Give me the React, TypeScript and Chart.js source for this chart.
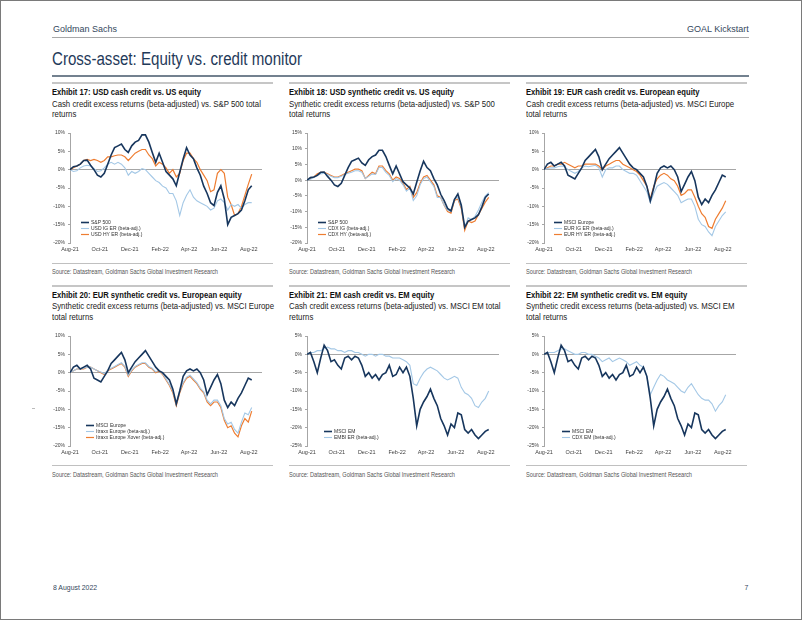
import React, { useEffect, useRef } from 'react';
import { Chart, registerables } from 'chart.js';
Chart.register(...registerables);

// ---------- axis definitions ----------
const STEP_DAYS = 7; // weekly observations starting 1 Aug 2021
const X_MAX = 392;
const tickDays = [0, 61, 122, 184, 243, 304, 365];
const tickLabels = ['Aug-21', 'Oct-21', 'Dec-21', 'Feb-22', 'Apr-22', 'Jun-22', 'Aug-22'];

// ---------- series (% cumulative returns, weekly) ----------
const sp500 = [0, 0.8, 1.0, 1.5, 2.5, 2.6, 1.2, 0.0, -1.5, -2.0, -1.0, 1.5, 4.0, 6.0, 6.5, 7.0, 5.5, 4.7, 6.5, 7.5, 8.0, 9.5, 9.5, 7.5, 4.7, 2.0, 4.5, 2.0, -0.5, -1.5, -2.5, -4.4, -0.7, 2.9, 6.0, 4.0, 3.0, 0.5, -1.5, -4.5, -6.5, -9.0, -9.8, -6.2, -4.4, -8.0, -15.0, -13.0, -12.5, -12.0, -11.0, -8.5, -5.5, -4.4];
const usdIG = [0, -0.5, -0.3, 0.5, 1.0, 1.2, 1.0, 0.3, -0.5, -0.3, 0.5, 1.5, 2.0, 1.5, 2.0, 1.5, 0.5, -1.5, -0.5, -1.0, -0.5, 0.3, 0.0, -1.0, -2.0, -3.0, -3.5, -4.5, -5.0, -6.5, -6.5, -8.5, -12.5, -9.0, -7.0, -5.5, -7.5, -8.5, -9.0, -9.5, -10.0, -11.0, -10.5, -8.5, -8.0, -9.0, -11.0, -9.5, -10.0, -9.5, -10.5, -9.5, -9.0, -9.0];
const usdHY = [0, 0.5, 1.0, 1.5, 2.5, 2.8, 2.5, 2.8, 2.5, 2.0, 2.5, 3.5, 3.5, 3.8, 4.0, 4.0, 3.5, 2.5, 3.5, 4.5, 5.0, 5.5, 5.5, 4.0, 3.0, 1.0, 2.0, 1.5, 0.5, -1.0, 0.0, -2.0, -1.0, 2.5, 4.5, 4.5, 3.0, 2.0, 0.0, -1.5, -3.0, -6.0, -5.5, -1.0, 0.0, -1.0, -7.5, -9.5, -12.5, -12.0, -10.0, -7.0, -4.0, -1.2];
const cdxIG = [0, 0.3, 0.8, 1.5, 2.0, 2.2, 1.8, 1.2, 0.8, 0.8, 1.2, 1.8, 2.2, 2.5, 3.0, 3.0, 2.5, 0.5, 1.2, 2.0, 1.8, 4.0, 4.0, 2.5, 1.5, -0.5, 0.5, 0.0, -1.5, -3.5, -2.5, -6.5, -5.0, -1.5, 0.5, 1.0, -0.5, -2.0, -5.5, -5.5, -8.0, -9.5, -10.0, -6.0, -5.5, -8.5, -15.0, -12.0, -12.5, -11.5, -9.5, -7.0, -5.0, -4.0];
const cdxHY = [0, 0.5, 1.0, 2.0, 2.5, 2.5, 2.0, 1.5, 1.0, 1.0, 1.5, 2.0, 2.5, 3.0, 3.5, 3.5, 3.0, 0.5, 1.5, 2.5, 2.0, 4.5, 4.5, 3.0, 2.0, 0.0, 1.0, 0.5, -1.0, -3.0, -2.0, -5.5, -4.0, -1.0, 1.0, 1.5, 0.0, -1.5, -5.0, -5.5, -8.0, -10.0, -10.5, -6.5, -6.0, -9.0, -16.0, -13.0, -13.5, -13.0, -11.0, -9.0, -7.0, -5.5];
const msciEurope = [0, 1.5, 2.0, 1.0, 1.5, 2.0, 1.0, -1.5, -2.0, -2.5, -1.0, 0.5, 2.5, 3.5, 4.5, 5.5, 3.5, 0.0, 1.5, 3.0, 4.0, 5.0, 6.0, 4.5, 3.0, 1.5, 0.5, 0.0, -1.0, -2.0, -4.5, -8.5, -5.0, -1.0, 0.5, 1.0, 0.5, 1.0, 0.0, -2.0, -6.0, -4.0, -2.0, -0.5, -3.0, -7.5, -9.5, -8.0, -9.0, -7.0, -5.5, -3.5, -1.5, -2.0];
const eurIG = [0, 0.3, 0.5, 0.5, 0.8, 1.0, 0.8, 0.0, -0.5, -1.0, -0.5, 0.5, 1.0, 0.8, 1.0, 1.2, 0.5, -2.0, 0.0, 0.5, 0.5, 1.0, 1.0, 0.0, -0.5, -1.0, -1.0, -1.5, -3.0, -4.5, -6.0, -9.0, -6.5, -4.5, -4.0, -3.5, -4.0, -5.0, -6.0, -7.0, -9.0, -8.5, -8.0, -8.0, -10.0, -13.5, -15.0, -15.5, -17.0, -18.0, -15.5, -14.0, -12.5, -11.5];
const eurHY = [0, 0.5, 1.0, 1.0, 1.5, 1.5, 2.0, 1.5, 1.0, 0.5, 1.0, 1.0, 1.5, 1.5, 1.5, 1.5, 1.0, 0.0, 1.0, 1.5, 2.0, 2.5, 2.5, 1.5, 1.0, 0.5, 0.0, -0.5, -1.5, -3.0, -4.5, -8.0, -4.5, -2.5, -1.5, -1.0, -1.5, -2.5, -3.0, -4.5, -7.0, -6.5, -5.5, -5.5, -7.5, -10.0, -12.0, -13.0, -15.5, -16.0, -13.5, -12.0, -10.5, -8.5];
const itraxxEurope = [0, 0.5, 1.0, 1.0, 1.2, 1.5, 1.5, 1.0, 0.5, 0.2, -0.3, 0.7, 1.2, 1.7, 2.2, 2.7, 1.7, -0.7, 0.7, 1.7, 2.2, 2.7, 2.7, 1.7, 1.2, 0.2, 0.7, -0.3, -1.7, -3.2, -5.0, -8.5, -5.0, -2.7, -1.2, -0.7, -1.7, -2.7, -4.2, -5.2, -7.5, -8.5, -7.5, -7.5, -9.0, -12.5, -14.0, -13.5, -15.5, -16.5, -13.5, -11.0, -11.5, -9.5];
const itraxxXover = [0, 0.5, 1.0, 1.0, 1.0, 1.5, 1.5, 1.0, 0.5, 0.0, -0.5, 0.5, 1.0, 1.5, 2.0, 2.5, 1.5, -1.0, 0.5, 1.5, 2.0, 2.5, 2.5, 1.5, 1.0, 0.0, 0.5, -0.5, -2.0, -3.5, -5.5, -9.0, -5.5, -3.0, -1.5, -1.0, -2.0, -3.0, -4.5, -5.5, -8.0, -9.0, -8.0, -8.0, -9.5, -13.0, -15.0, -14.5, -16.5, -17.5, -14.5, -12.5, -13.5, -10.5];
const msciEM = [0, 0.5, -2.0, -5.0, -1.0, 2.5, 1.0, -2.0, -1.5, -3.0, -4.0, -1.0, -0.5, -1.5, -0.5, -1.0, -3.0, -6.0, -5.0, -6.5, -5.5, -7.0, -5.5, -5.0, -3.0, -6.0, -5.5, -3.5, -5.0, -3.5, -6.0, -12.0, -19.5, -15.0, -13.0, -11.5, -9.5, -12.0, -14.0, -17.5, -19.5, -22.0, -19.0, -20.0, -16.0, -16.5, -20.5, -21.5, -20.5, -22.0, -23.0, -22.0, -21.0, -20.5];
const embi = [0, 0.5, 0.5, 1.0, 1.0, 1.5, 2.0, 1.5, 1.5, 1.0, 1.0, 0.5, 1.0, 1.0, 0.5, 0.5, 0.0, -0.5, 0.0, 0.0, -0.5, 0.0, 0.0, -0.5, -0.5, -1.0, -1.0, -1.0, -1.5, -2.0, -3.0, -8.0, -8.5, -6.5, -5.0, -4.0, -3.5, -4.0, -4.5, -5.5, -6.5, -7.0, -6.5, -6.0, -6.5, -9.0, -10.5, -11.0, -12.0, -14.0, -14.5, -13.0, -12.0, -10.0];
const cdxEM = [0, 0.5, 0.5, 0.5, 1.0, 1.5, 1.5, 1.0, 0.5, 0.0, 0.0, 0.5, 0.5, 0.0, 0.0, -0.5, -1.0, -2.0, -1.5, -1.0, -2.0, -1.5, -1.0, -1.5, -2.0, -3.0, -2.5, -2.0, -3.0, -3.5, -6.0, -11.0, -9.0, -7.0, -5.5, -6.0, -7.0, -7.5, -8.0, -9.0, -10.0, -10.5, -9.0, -8.0, -9.5, -11.0, -12.0, -12.5, -12.5, -13.5, -15.5, -14.0, -13.0, -11.0];

// ---------- styles ----------
const NAVY = '#17365d';
const LIGHT = '#a4c8e6';
const ORANGE = '#ee7d31';
const FONT = '"Liberation Sans Narrow", "Liberation Sans", Arial, sans-serif';
Chart.defaults.font.family = '"Liberation Sans", Arial, sans-serif';

type Series = { label: string; data: number[]; color: string; width: number };
type Spec = { col: number; row: number; title: string; sub1: string; sub2: string; yMin: number; yMax: number; legendDx: number; series: Series[] };

const specs: Spec[] = [
  { col: 53, row: 0, title: 'Exhibit 17: USD cash credit vs. US equity', sub1: 'Cash credit excess returns (beta-adjusted) vs. S&P 500 total', sub2: 'returns', yMin: -20, yMax: 10, legendDx: 11,
    series: [ { label: 'S&P 500', data: sp500, color: NAVY, width: 1.6 }, { label: 'USD IG ER (beta-adj.)', data: usdIG, color: LIGHT, width: 1.1 }, { label: 'USD HY ER (beta-adj.)', data: usdHY, color: ORANGE, width: 1.2 } ] },
  { col: 290, row: 0, title: 'Exhibit 18: USD synthetic credit vs. US equity', sub1: 'Synthetic credit excess returns (beta-adjusted) vs. S&P 500', sub2: 'total returns', yMin: -20, yMax: 15, legendDx: 11,
    series: [ { label: 'S&P 500', data: sp500, color: NAVY, width: 1.6 }, { label: 'CDX IG (beta-adj.)', data: cdxIG, color: LIGHT, width: 1.1 }, { label: 'CDX HY (beta-adj.)', data: cdxHY, color: ORANGE, width: 1.2 } ] },
  { col: 527, row: 0, title: 'Exhibit 19: EUR cash credit vs. European equity', sub1: 'Cash credit excess returns (beta-adjusted) vs. MSCI Europe', sub2: 'total returns', yMin: -20, yMax: 10, legendDx: 10,
    series: [ { label: 'MSCI Europe', data: msciEurope, color: NAVY, width: 1.6 }, { label: 'EUR IG ER (beta-adj.)', data: eurIG, color: LIGHT, width: 1.1 }, { label: 'EUR HY ER (beta-adj.)', data: eurHY, color: ORANGE, width: 1.2 } ] },
  { col: 53, row: 1, title: 'Exhibit 20: EUR synthetic credit vs. European equity', sub1: 'Synthetic credit excess returns (beta-adjusted) vs. MSCI Europe', sub2: 'total returns', yMin: -20, yMax: 10, legendDx: 16,
    series: [ { label: 'MSCI Europe', data: msciEurope, color: NAVY, width: 1.6 }, { label: 'Itraxx Europe (beta-adj.)', data: itraxxEurope, color: LIGHT, width: 1.1 }, { label: 'Itraxx Europe Xover (beta-adj.)', data: itraxxXover, color: ORANGE, width: 1.2 } ] },
  { col: 290, row: 1, title: 'Exhibit 21: EM cash credit vs. EM equity', sub1: 'Cash credit excess returns (beta-adjusted) vs. MSCI EM total', sub2: 'returns', yMin: -25, yMax: 5, legendDx: 17,
    series: [ { label: 'MSCI EM', data: msciEM, color: NAVY, width: 1.6 }, { label: 'EMBI ER (beta-adj.)', data: embi, color: LIGHT, width: 1.1 } ] },
  { col: 527, row: 1, title: 'Exhibit 22: EM synthetic credit vs. EM equity', sub1: 'Synthetic credit excess returns (beta-adjusted) vs. MSCI EM', sub2: 'total returns', yMin: -25, yMax: 5, legendDx: 18,
    series: [ { label: 'MSCI EM', data: msciEM, color: NAVY, width: 1.6 }, { label: 'CDX EM (beta-adj.)', data: cdxEM, color: LIGHT, width: 1.1 } ] },
];

const ROW_TOPS = [83, 285.5];
const COL_W = 221;
const PLOT_H = 110;
const PAD_TOP = 6;
const Y_AXIS_W = 17;
const X_AXIS_H = 12;
const PLOT_RIGHT = 209;

// ---------- text fitting ----------
type TS = { size: number; weight: number; color: string; family: string; ref: string; refW: number };
let mctx: CanvasRenderingContext2D | null = null;
function scaleOf(st: TS) {
  if (!mctx) mctx = document.createElement('canvas').getContext('2d');
  if (!mctx) return 1;
  mctx.font = `${st.weight} ${st.size}px ${st.family}`;
  const w = mctx.measureText(st.ref).width;
  return w > 0 ? st.refW / w : 1;
}
const stHeader: TS = { size: 9, weight: 400, color: '#34475c', family: FONT, ref: 'Goldman Sachs', refW: 64 };
const stTitle: TS = { size: 18, weight: 400, color: '#1f3a5a', family: FONT, ref: 'Cross-asset: Equity vs. credit monitor', refW: 250 };
const stExTitle: TS = { size: 8.6, weight: 700, color: '#111', family: FONT, ref: 'Exhibit 17: USD cash credit vs. US equity', refW: 149 };
const stSub: TS = { size: 8.6, weight: 400, color: '#222', family: FONT, ref: 'Cash credit excess returns (beta-adjusted) vs. S&P 500 total', refW: 209 };
const stSource: TS = { size: 6.6, weight: 400, color: '#555', family: FONT, ref: 'Source: Datastream, Goldman Sachs Global Investment Research', refW: 166 };
const stFooter: TS = { size: 8, weight: 400, color: '#34475c', family: FONT, ref: '8 August 2022', refW: 44.5 };

function Txt({ x, y, st, children, right }: { x: number; y: number; st: TS; children: any; right?: boolean }) {
  const s = scaleOf(st);
  const lh = st.size * 1.15;
  return (
    <div style={{ position: 'absolute', left: right ? undefined : x, right: right ? 802 - x : undefined, top: y - st.size * 0.58, fontFamily: st.family, fontSize: st.size, fontWeight: st.weight, color: st.color, lineHeight: `${lh}px`, whiteSpace: 'nowrap', transform: `scaleX(${s})`, transformOrigin: right ? 'right center' : 'left center' }}>{children}</div>
  );
}

function Rule({ x, y, w, h, c }: { x: number; y: number; w: number; h: number; c: string }) {
  return <div style={{ position: 'absolute', left: x, top: y, width: w, height: h, background: c }} />;
}

// ---------- legend plugin (inside plot, bottom-left) ----------
const inLegend = {
  id: 'inLegend',
  afterDatasetsDraw(chart: any, _a: any, opts: any) {
    const { ctx, chartArea } = chart;
    const ds = chart.data.datasets;
    const n = ds.length;
    ctx.save();
    ctx.font = '5px "Liberation Sans", Arial, sans-serif';
    ctx.textBaseline = 'middle';
    ds.forEach((d: any, i: number) => {
      const y = chartArea.bottom - opts.gap - (n - 1 - i) * opts.rowH;
      const x0 = chartArea.left + opts.dx;
      ctx.strokeStyle = d.borderColor;
      ctx.lineWidth = d.borderWidth;
      ctx.beginPath();
      ctx.moveTo(x0, y);
      ctx.lineTo(x0 + opts.len, y);
      ctx.stroke();
      ctx.fillStyle = '#333';
      ctx.fillText(d.label, x0 + opts.len + 2, y);
    });
    ctx.restore();
  },
};

function ChartBox({ spec }: { spec: Spec }) {
  const ref = useRef<HTMLCanvasElement>(null);
  const plotTop = ROW_TOPS[spec.row] + 50;
  const cTop = plotTop - PAD_TOP;
  const cH = Math.round(PLOT_H + PAD_TOP + X_AXIS_H);
  const cW = COL_W;
  useEffect(() => {
    if (!ref.current) return;
    const chart = new Chart(ref.current, {
      type: 'line',
      data: {
        datasets: spec.series.map((s) => ({
          label: s.label,
          data: s.data.map((v, i) => ({ x: i * STEP_DAYS, y: v })),
          borderColor: s.color,
          backgroundColor: s.color,
          borderWidth: s.width,
          pointRadius: 0,
          tension: 0,
          fill: false,
        })),
      },
      options: {
        responsive: false,
        animation: false,
        events: [],
        layout: { padding: { top: PAD_TOP, right: cW - PLOT_RIGHT, left: 0, bottom: 0 } },
        plugins: {
          legend: { display: false },
          tooltip: { enabled: false },
          inLegend: { dx: spec.legendDx, gap: 8.5, rowH: 6, len: 8 },
        } as any,
        scales: {
          x: {
            type: 'linear',
            min: 0,
            max: X_MAX,
            afterBuildTicks: (s: any) => { s.ticks = tickDays.map((v) => ({ value: v })); },
            afterFit: (s: any) => { s.height = X_AXIS_H; },
            grid: { display: false, drawTicks: false },
            border: { display: false },
            ticks: {
              autoSkip: false,
              maxRotation: 0,
              padding: 3,
              color: '#404040',
              font: { size: 5.5 },
              callback: (v: any) => { const k = tickDays.indexOf(Number(v)); return k >= 0 ? tickLabels[k] : ''; },
            },
          },
          y: {
            min: spec.yMin,
            max: spec.yMax,
            afterFit: (s: any) => { s.width = Y_AXIS_W; },
            ticks: { stepSize: 5, padding: 3, color: '#404040', font: { size: 5 }, callback: (v: any) => `${v}%` },
            grid: {
              color: (c: any) => (c.tick && c.tick.value === 0 ? '#a6a6a6' : 'rgba(0,0,0,0)'),
              tickColor: '#a6a6a6',
              tickLength: 2,
              lineWidth: 1,
            },
            border: { display: true, color: '#a6a6a6', width: 1 },
          },
        },
      } as any,
      plugins: [inLegend as any],
    });
    return () => chart.destroy();
  }, []);
  return <canvas ref={ref} width={cW} height={cH} style={{ position: 'absolute', left: spec.col, top: cTop, width: cW, height: cH }} />;
}

function Exhibit({ spec }: { spec: Spec }) {
  const t = ROW_TOPS[spec.row];
  const x = spec.col;
  return (
    <>
      <Rule x={x - 1} y={t - 1} w={COL_W} h={2} c="#c6c6c6" />
      <Txt x={x - 1} y={t + 10} st={stExTitle}>{spec.title}</Txt>
      <Txt x={x - 1} y={t + 21.5} st={stSub}>{spec.sub1}</Txt>
      <Txt x={x - 1} y={t + 32} st={stSub}>{spec.sub2}</Txt>
      <ChartBox spec={spec} />
      <Rule x={x - 1} y={t + 179.5} w={COL_W} h={1} c="#c0c0c0" />
      <Txt x={x - 1} y={t + 189} st={stSource}>Source: Datastream, Goldman Sachs Global Investment Research</Txt>
    </>
  );
}

export default function App() {
  return (
    <div style={{ position: 'fixed', left: 0, top: 0, width: 802, height: 620, background: '#fff', overflow: 'hidden' }}>
      <Txt x={52.5} y={29} st={stHeader}>Goldman Sachs</Txt>
      <Txt x={748.5} y={29} st={stHeader} right>GOAL Kickstart</Txt>
      <Rule x={52} y={37} w={697} h={1} c="#a8a8a8" />
      <Txt x={52} y={59} st={stTitle}>Cross-asset: Equity vs. credit monitor</Txt>
      <Rule x={52} y={75} w={697} h={1.5} c="#73818f" />
      {specs.map((s, i) => <Exhibit key={i} spec={s} />)}
      <Rule x={32} y={408} w={3} h={1} c="#bbbbbb" />
      <Txt x={52.5} y={588} st={stFooter}>8 August 2022</Txt>
      <Txt x={748.5} y={588} st={stFooter} right>7</Txt>
      <div style={{ position: 'absolute', left: 0, top: 0, width: 802, height: 620, boxSizing: 'border-box', border: '1px solid #7a7a7a', pointerEvents: 'none' }} />
    </div>
  );
}
